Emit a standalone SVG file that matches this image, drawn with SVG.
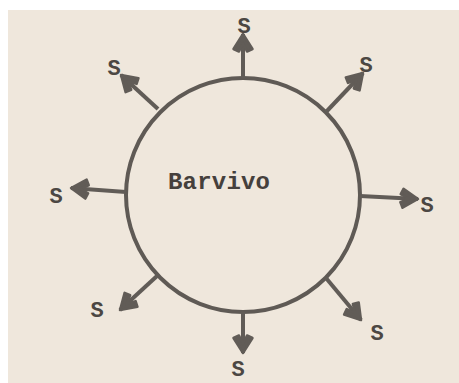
<svg xmlns="http://www.w3.org/2000/svg" width="459" height="383" viewBox="0 0 459 383">
  <defs>
    <marker id="ah" viewBox="-20 -12 22 24" refX="0" refY="0" markerWidth="22" markerHeight="24" markerUnits="userSpaceOnUse" orient="auto">
      <path d="M0,0 L-15,-9.5 L-17.5,-4 L-9,0 L-17.5,4 L-15,9.5 Z" fill="#615c57" stroke="#615c57" stroke-width="2.5" stroke-linejoin="round"/>
    </marker>
  </defs>
  <style>
    .ring { fill: none; stroke: #5f5a55; stroke-width: 4; }
    .arr { stroke: #615c57; stroke-width: 4; fill: none; marker-end: url(#ah); }
    .lbl { font-family: "Liberation Mono", "DejaVu Sans Mono", monospace; font-size: 22px; font-weight: bold; fill: #4c4743; text-anchor: middle; }
    .main { font-family: "Liberation Mono", "DejaVu Sans Mono", monospace; font-size: 24px; fill: #45403c; font-weight: bold; }
  </style>
  <rect x="0" y="0" width="459" height="383" fill="#ffffff"/>
  <rect x="8" y="10" width="451" height="373" fill="#efe7dc"/>

  <g id="barvivo">
    <circle class="ring" cx="243" cy="195" r="117"/>
    <text class="main" x="168" y="189" textLength="102">Barvivo</text>
  </g>

  <g id="connectors">
    <line class="arr" x1="243" y1="78" x2="243" y2="34"/>
    <line class="arr" x1="326" y1="112" x2="363" y2="73"/>
    <line class="arr" x1="360" y1="196" x2="418" y2="199"/>
    <line class="arr" x1="326" y1="278" x2="361" y2="320"/>
    <line class="arr" x1="243" y1="312" x2="243" y2="353"/>
    <line class="arr" x1="157" y1="276" x2="120" y2="310"/>
    <line class="arr" x1="126" y1="192" x2="71" y2="188"/>
    <line class="arr" x1="158" y1="109" x2="121" y2="75"/>
  </g>

  <g id="s-n"><text class="lbl" x="244" y="33">S</text></g>
  <g id="s-ne"><text class="lbl" x="366" y="72">S</text></g>
  <g id="s-e"><text class="lbl" x="427" y="212">S</text></g>
  <g id="s-se"><text class="lbl" x="377" y="340">S</text></g>
  <g id="s-s"><text class="lbl" x="238" y="376">S</text></g>
  <g id="s-sw"><text class="lbl" x="97" y="317">S</text></g>
  <g id="s-w"><text class="lbl" x="56" y="203">S</text></g>
  <g id="s-nw"><text class="lbl" x="114" y="75">S</text></g>
</svg>
